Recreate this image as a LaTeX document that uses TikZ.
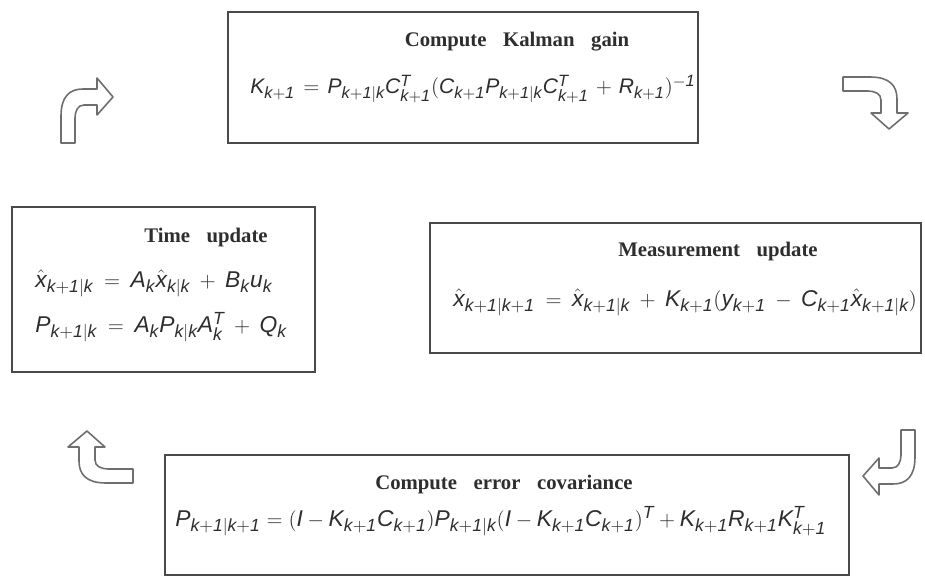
\documentclass[tikz,border=0pt]{standalone}
\usepackage{amsmath}
\usepackage[no-math]{fontspec}
\setmainfont{Liberation Serif}
\setsansfont{Liberation Sans}[NFSSFamily=libsans]
\DeclareMathAlphabet{\mathsfit}{TU}{libsans}{m}{it}
\DeclareMathSizes{13}{13}{10}{8}
\DeclareMathSizes{12}{12}{9.3}{7}
\usepackage{tikz}
\usetikzlibrary{calc}
\definecolor{framegray}{HTML}{4A4A4A}
\definecolor{arrowgray}{HTML}{6E6E6E}
\definecolor{textgray}{HTML}{2E2E2E}
\newcommand{\wsp}{\hspace{0.8em}}
\newcommand{\xh}{\mathaccent"005E{x}}
\newcommand{\loosemath}{\thickmuskip=9mu plus 3mu\relax\medmuskip=8mu plus 2mu\relax}
\newcommand{\gainmath}{\thickmuskip=7mu\relax\medmuskip=6mu\relax}
\tikzset{
  box/.style={
    draw=framegray,
    line width=1.1pt,
    fill=white,
    inner sep=0pt
  },
  heading/.style={font=\bfseries\fontsize{11.8}{14}\selectfont, text=textgray, inner sep=1pt},
  formula/.style={font=\fontsize{13}{15}\selectfont, text=textgray, inner sep=0pt, anchor=base west},
  loose formula/.style={formula, execute at begin node=\loosemath},
  gain formula/.style={formula, font=\fontsize{12}{14}\selectfont, execute at begin node=\gainmath},
  turnarrow/.style={draw=arrowgray, line width=0.9pt, line join=round, fill=white},
  bentarrow/.pic={
    \draw[turnarrow] (-7,0) -- (-7,27) .. controls (-7,47) and (2,54) .. (15,54)
      -- (29,54) -- (29,65) -- (45,46) -- (29,28) -- (29,38) -- (16,38)
      .. controls (10,38) and (7,32) .. (7,25) -- (7,0) -- cycle;
  }
}

\begin{document}
\begin{tikzpicture}[x=0.2mm, y=0.2mm]
\useasboundingbox (0,0) rectangle (925,579);

% Boxes
\node[box, minimum width=94mm, minimum height=26.2mm] (gainbox) at (463,501.5) {};
\node[box, minimum width=60.6mm, minimum height=33mm] (timebox) at (163.5,289.5) {};
\node[box, minimum width=98.2mm, minimum height=26mm] (measbox) at (675.5,291) {};
\node[box, minimum width=136.8mm, minimum height=24mm] (covbox) at (507,64) {};

% Headings
\node[heading] (gaintitle) at (517,537) {Compute\wsp Kalman\wsp gain};
\node[heading] (timetitle) at (206,341) {Time\wsp update};
\node[heading] (meastitle) at (718,327) {Measurement\wsp update};
\node[heading] (covtitle) at (504,94) {Compute\wsp error\wsp covariance};

% Formulas
\node[gain formula] (gaineq) at (250,485)
  {$\mathsfit{K_{k+1} = P_{k+1|k} C_{k+1}^{T} (C_{k+1} P_{k+1|k} C_{k+1}^{T} + R_{k+1})^{-1}}$};
\node[loose formula] (timeeq) at (35,292)
  {$\mathsfit{\xh_{k+1|k} = A_k \xh_{k|k} + B_k u_k}$};
\node[loose formula] (timecov) at (35,247)
  {$\mathsfit{P_{k+1|k} = A_k P_{k|k} A_k^{T} + Q_k}$};
\node[loose formula] (measeq) at (453,273)
  {$\mathsfit{\xh_{k+1|k+1} = \xh_{k+1|k} + K_{k+1}(y_{k+1} - C_{k+1}\xh_{k+1|k})}$};
\node[formula] (coveq) at (175,53)
  {$\mathsfit{P_{k+1|k+1} = (I - K_{k+1}C_{k+1}) P_{k+1|k} (I - K_{k+1}C_{k+1})^{T} + K_{k+1}R_{k+1}K_{k+1}^{T}}$};

% Turning arrows
\pic (turnup) at (68,436) {bentarrow};
\pic[rotate=-90] (turnright) at (843,495) {bentarrow};
\pic[rotate=180] (turndown) at (908,149) {bentarrow};
\pic[rotate=90] (turnleft) at (133,103) {bentarrow};

\end{tikzpicture}
\end{document}
